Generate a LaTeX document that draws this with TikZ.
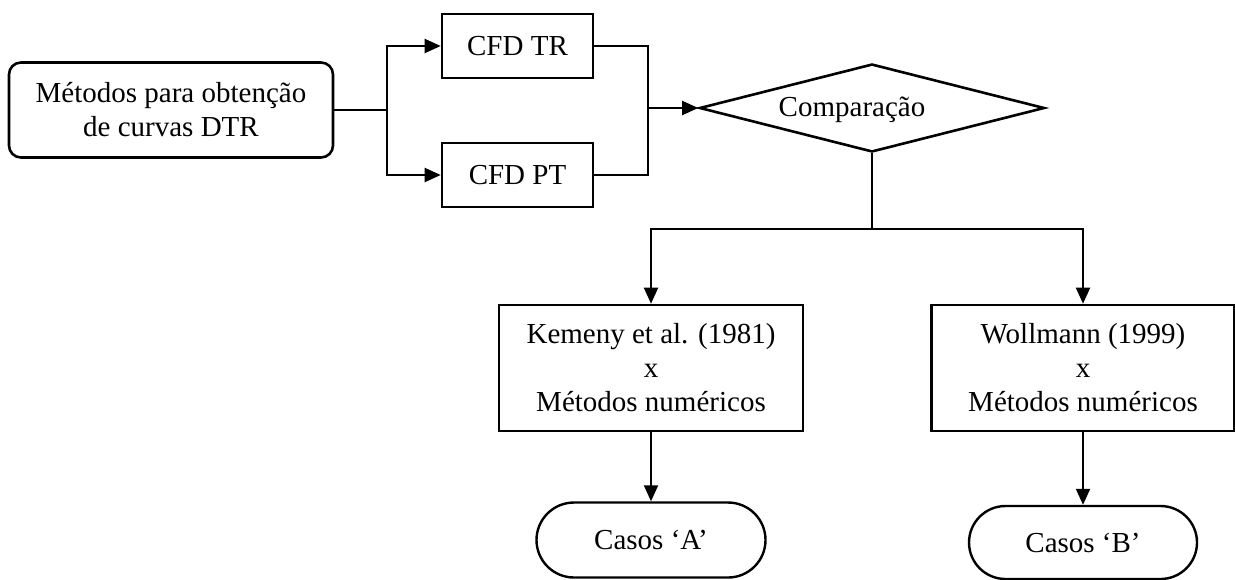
\documentclass[tikz,border=0pt]{standalone}
\usepackage{fontspec}
\setmainfont{Liberation Serif}
\usetikzlibrary{shapes.geometric,shapes.misc,arrows.meta}
\begin{document}
\begin{tikzpicture}[x=0.5pt,y=-0.5pt,
  font=\fontsize{14.5}{17}\selectfont,
  box/.style={draw,line width=1.3pt,inner sep=0pt,align=center},
  startbox/.style={box,rounded corners=6pt},
  termbox/.style={draw,line width=1.2pt,rounded rectangle,inner sep=0pt,align=center},
  decision/.style={draw,line width=1.3pt,diamond,inner sep=0pt},
  link/.style={line width=1pt},
  arrow/.style={link,-{Triangle[length=8pt,width=7pt]}}]
\useasboundingbox (0,0) rectangle (1235,579);

% boxes
\node[startbox,minimum width=162pt,minimum height=47.5pt] (start) at (171,110)
  {Métodos para obtenção\\de curvas DTR};
\node[box,minimum width=75.5pt,minimum height=32pt] (tr) at (517.5,46) {CFD TR};
\node[box,minimum width=75.5pt,minimum height=32pt] (pt) at (517.5,175) {CFD PT};
\node[decision,minimum width=172.5pt,minimum height=44pt] (cmp) at (872,108) {};
\node (cmplabel) at (852,110) {Comparação};
\node[box,minimum width=152pt,minimum height=63pt] (kem) at (651,368)
  {Kemeny et al. (1981)\\x\\Métodos numéricos};
\node[box,minimum width=151.5pt,minimum height=63pt] (wol) at (1083,368)
  {Wollmann (1999)\\x\\Métodos numéricos};
\node[termbox,minimum width=114.5pt,minimum height=37.5pt] (ca) at (651,540) {Casos ‘A’};
\node[termbox,minimum width=114pt,minimum height=36.5pt] (cb) at (1083,542.5) {Casos ‘B’};

% junction points
\coordinate (j1) at (387,110);
\coordinate (j2) at (648,108);
\coordinate (j3) at (872,229);

% connectors
\draw[link] (start.east) -- (j1);
\draw[arrow] (j1) |- (tr.west);
\draw[arrow] (j1) |- (pt.west);
\draw[link] (tr.east) -| (j2) |- (pt.east);
\draw[arrow] (j2) -- (cmp.west);
\draw[link] (cmp.south) -- (j3);
\draw[arrow] (j3) -| (kem.north);
\draw[arrow] (j3) -| (wol.north);
\draw[arrow] (kem.south) -- (ca.north);
\draw[arrow] (wol.south) -- (cb.north);
\end{tikzpicture}
\end{document}
